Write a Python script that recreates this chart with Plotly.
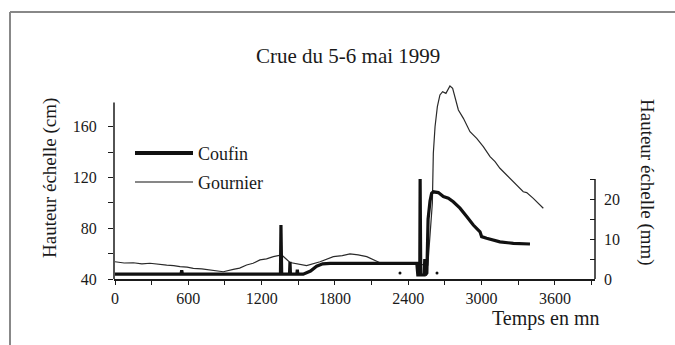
import plotly.graph_objects as go

# ---- data -------------------------------------------------------------
# Gournier gauge height (cm), left axis
gournier_t = [0, 75, 150, 220, 286, 350, 423, 480, 532, 590, 641, 710, 777, 830, 886, 968,
              1020, 1077, 1130, 1186, 1240, 1296, 1364,
              1432, 1500, 1568, 1678, 1787, 1860, 1923, 1990, 2060, 2168, 2316, 2450, 2560,
              2597, 2605, 2619, 2638, 2659, 2681, 2708, 2728, 2741, 2763, 2782,
              2810, 2851, 2905, 2960, 3014, 3069, 3110, 3150, 3205, 3273, 3341,
              3369, 3423, 3505]
gournier_h = [53.6, 52.6, 52.8, 51.9, 52.4, 51.6, 51.0, 50.6, 49.7, 49.3, 48.4, 47.9, 47.1, 46.8, 45.7, 47.6,
              48.6, 51.0, 52.4, 55.0, 55.8, 57.6, 58.9,
              53.0, 52.0, 50.5, 53.6, 57.6, 58.4, 59.7, 59.0, 57.6, 52.8, 51.8, 51.8, 51.0,
              99.6, 139.0, 159.9, 175.7, 184.9, 187.5, 186.2, 190.2, 192.0, 190.2, 183.5,
              173.1, 166.5, 156.0, 150.8, 144.2, 136.3, 132.4, 127.2, 121.9, 115.4, 108.7,
              108.0, 103.5, 95.7]

# Coufin gauge height (mm), right axis
coufin_t = [0, 540, 546, 552, 1354, 1358, 1364, 1428, 1432, 1436, 1488, 1492, 1496,
            1540, 1600, 1650, 1700, 1760, 2470, 2478, 2494, 2497, 2502, 2530, 2535,
            2540, 2552, 2562, 2578, 2591, 2605, 2646, 2687, 2728, 2768, 2823, 2878,
            2932, 2987, 3000, 3041, 3150, 3260, 3396]
coufin_h = [1.2, 1.2, 2.2, 1.2, 1.2, 13.5, 1.2, 1.2, 4.3, 1.2, 1.2, 2.3, 1.2,
            1.2, 2.0, 3.2, 3.8, 3.9, 3.9, 1.0, 1.0, 25.0, 1.0, 1.0, 5.0,
            1.0, 1.5, 15.0, 19.5, 21.4, 21.8, 21.6, 20.6, 20.2, 19.3, 17.7, 15.6,
            13.5, 11.8, 10.6, 10.2, 9.3, 8.9, 8.75]

# isolated Coufin readings
coufin_pts_t = [2332, 2635]
coufin_pts_h = [1.5, 1.5]

# ticks
x_ticks = list(range(0, 4200, 300))
x_ticktext = [str(v) if v % 600 == 0 else "" for v in x_ticks]
y_ticks = [40, 60, 80, 100, 120, 140, 160]
y_ticktext = ["40", "", "80", "", "120", "", "160"]
y2_ticks = [0, 5, 10, 15, 20, 25]
y2_ticktext = ["0", "", "10", "", "20", ""]

title_text = "Crue du 5-6 mai 1999"
x_title = "Temps en mn"
y_title = "Hauteur échelle (cm)"
y2_title = "Hauteur échelle (mm)"
legend_names = ["Coufin", "Gournier"]

# ---- layout geometry (pixels) -----------------------------------------
W_FIG, H_FIG = 675, 345
L, R, T, B = 114, 80, 80, 66
PW, PH = W_FIG - L - R, H_FIG - T - B


def paper(px, py):
    return (px - L) / PW, (H_FIG - B - py) / PH


FONT = "Liberation Serif"
INK = "#1a1a1a"
TICKFONT = dict(family=FONT, size=16, color=INK)

fig = go.Figure()
fig.add_trace(go.Scatter(x=gournier_t, y=gournier_h, mode="lines", name=legend_names[1],
                         line=dict(color="#2a2a2a", width=1.2), yaxis="y"))
fig.add_trace(go.Scatter(x=coufin_t, y=coufin_h, mode="lines", name=legend_names[0],
                         line=dict(color="#111111", width=3.2), yaxis="y2"))
fig.add_trace(go.Scatter(x=coufin_pts_t, y=coufin_pts_h, mode="markers", showlegend=False,
                         marker=dict(color="#111111", size=3), yaxis="y2"))

shapes = []
# left axis line (stops at 180)
shapes.append(dict(type="line", xref="paper", yref="y", x0=0, x1=0, y0=40, y1=179,
                   line=dict(color=INK, width=1.5)))
# right axis line (0 to 25 mm)
shapes.append(dict(type="line", xref="paper", yref="y2", x0=1, x1=1, y0=0, y1=25,
                   line=dict(color=INK, width=1.5)))
# legend samples
for (y_px, w) in [(153, 4), (182, 1.2)]:
    xa, ya = paper(135, y_px)
    xb, _ = paper(193, y_px)
    shapes.append(dict(type="line", xref="paper", yref="paper", x0=xa, x1=xb, y0=ya, y1=ya,
                       line=dict(color="#111111", width=w)))
# page frame
fx0, fy0 = paper(10, 12)
fx1, fy1 = paper(675, 345)
shapes.append(dict(type="line", xref="paper", yref="paper", x0=fx0, x1=fx0, y0=fy0, y1=fy1,
                   line=dict(color="#888888", width=2)))
shapes.append(dict(type="line", xref="paper", yref="paper", x0=fx0, x1=fx1, y0=fy0, y1=fy0,
                   line=dict(color="#888888", width=2)))

annotations = []


def add_text(text, px, py, size, angle=0, xanchor="center"):
    ax, ay = paper(px, py)
    annotations.append(dict(text=text, x=ax, y=ay, xref="paper", yref="paper",
                            showarrow=False, textangle=angle, xanchor=xanchor,
                            yanchor="middle", font=dict(family=FONT, size=size, color=INK)))


add_text(title_text, 348, 56, 21)
add_text(x_title, 545, 318, 20)
add_text(y_title, 50, 178, 19, angle=-90)
add_text(y2_title, 647, 182, 19, angle=90)
add_text(legend_names[0], 196, 154, 18, xanchor="left")
add_text(legend_names[1], 196, 183, 18, xanchor="left")

x_per_px = 1 / 0.1222
fig.update_layout(
    width=W_FIG, height=H_FIG,
    margin=dict(l=L, r=R, t=T, b=B, pad=0),
    paper_bgcolor="white", plot_bgcolor="white",
    showlegend=False,
    font=dict(family=FONT, size=16, color=INK),
    xaxis=dict(range=[-1 * x_per_px, (595 - 115) * x_per_px], tickvals=x_ticks,
               ticktext=x_ticktext, ticks="outside", ticklen=4, tickwidth=1.2,
               tickcolor=INK, showline=True, linecolor=INK, linewidth=1.5,
               showgrid=False, zeroline=False, tickfont=TICKFONT),
    yaxis=dict(range=[40, 40 + PH / 1.27], tickvals=y_ticks, ticktext=y_ticktext,
               ticks="outside", ticklen=5, tickwidth=1.2, tickcolor=INK,
               showline=False, showgrid=False, zeroline=False,
               ticklabelstandoff=8, tickfont=TICKFONT),
    yaxis2=dict(range=[0, PH / 4], tickvals=y2_ticks, ticktext=y2_ticktext,
                overlaying="y", side="right", anchor="x",
                ticks="inside", ticklen=5, tickwidth=1.2, tickcolor=INK,
                showline=False, showgrid=False, zeroline=False,
                ticklabelstandoff=8, tickfont=TICKFONT),
    shapes=shapes,
    annotations=annotations,
)

fig.write_html("out.html")
